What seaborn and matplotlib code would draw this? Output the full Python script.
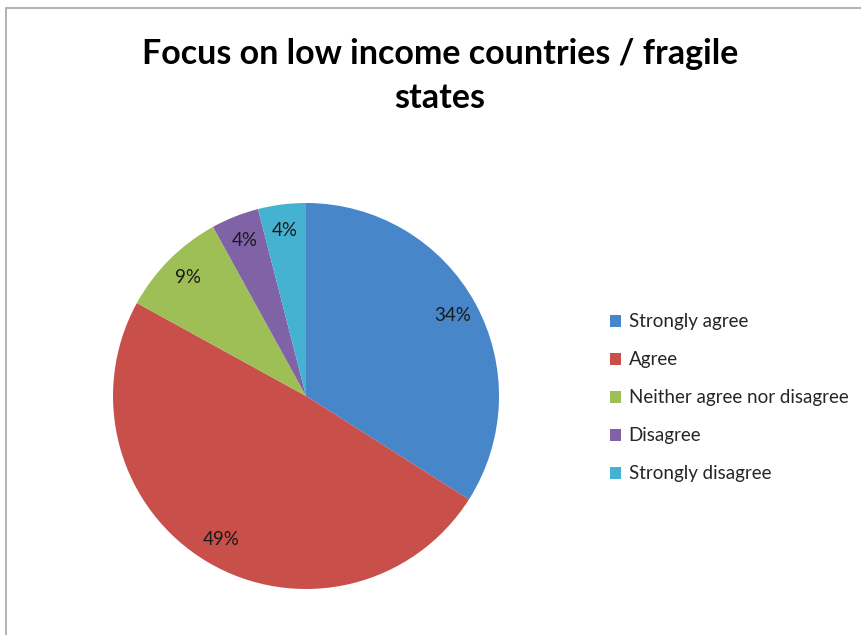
import matplotlib
matplotlib.use("Agg")
import matplotlib.pyplot as plt
from matplotlib.patches import Rectangle
import seaborn as sns

categories = ["Strongly agree", "Agree", "Neither agree nor disagree", "Disagree", "Strongly disagree"]
values = [34, 49, 9, 4, 4]
labels_pct = ["34%", "49%", "9%", "4%", "4%"]
colors = ["#4786c9", "#c9504a", "#9dbf55", "#8062a6", "#45b2d2"]
title = "Focus on low income countries / fragile\nstates"

sns.set_theme(style="white")
plt.rcParams["font.family"] = ["Lato", "DejaVu Sans"]

W, H = 862, 635
fig = plt.figure(figsize=(W / 100, H / 100), dpi=100)
fig.patch.set_facecolor("white")

# outer frame
fig.patches.append(Rectangle((6 / W, -0.02), 1.05, 1 - 8 / H + 0.02, transform=fig.transFigure,
                             fill=False, edgecolor="#a6a6a6", linewidth=1.2))

cx, cy, r = 306, 396, 193
ax = fig.add_axes([(cx - r) / W, 1 - (cy + r) / H, 2 * r / W, 2 * r / H])
wedges, texts = ax.pie(values, colors=colors, startangle=90, counterclock=False,
                       labels=labels_pct, labeldistance=0.865, radius=1,
                       wedgeprops=dict(linewidth=0),
                       textprops=dict(fontsize=13.5, color="#1a1a1a"))
for t in texts:
    t.set_horizontalalignment("center")
    t.set_verticalalignment("center")
ax.set_xlim(-1, 1)
ax.set_ylim(-1, 1)
ax.set_aspect("equal")
ax.axis("off")

fig.text(440 / W, 1 - 76 / H, title, ha="center", va="center", fontsize=24.5,
         fontweight="bold", color="black", linespacing=1.45)

fig.legend(wedges, categories, loc="center left", bbox_to_anchor=(593 / W, 1 - 398 / H),
           bbox_transform=fig.transFigure, frameon=False, fontsize=13.5,
           handlelength=0.6, handleheight=0.6, handletextpad=0.4, labelspacing=1.12)

fig.savefig("out.png", dpi=100)
